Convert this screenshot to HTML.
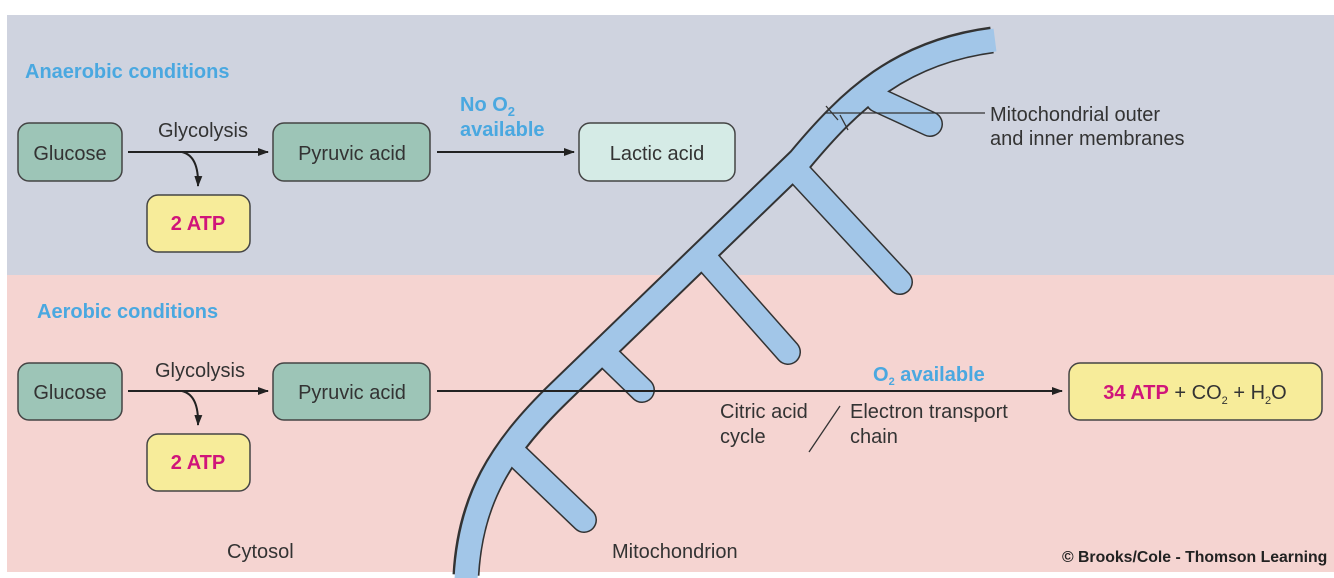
<!DOCTYPE html>
<html><head><meta charset="utf-8"><style>
html,body{margin:0;padding:0;background:#fff;}
svg{display:block;}
text{font-family:"Liberation Sans",sans-serif;}
</style></head><body>
<svg width="1334" height="578" viewBox="0 0 1334 578" xmlns="http://www.w3.org/2000/svg">
<defs>
<marker id="ah" markerWidth="11" markerHeight="8" refX="10" refY="4" orient="auto" markerUnits="userSpaceOnUse"><path d="M0,0 L11,4 L0,8 Z" fill="#222"/></marker>
</defs>
<rect x="7" y="15" width="1327" height="260" fill="#cfd3df"/>
<rect x="7" y="275" width="1327" height="297" fill="#f5d4d1"/>

<!-- mitochondrion -->
<g fill="none" stroke="#333" stroke-width="26" stroke-linecap="round">
<path d="M878 100 L930 124"/><path d="M797 171 L900 282"/><path d="M704 257 L788 352"/><path d="M608 357 L642 390"/><path d="M511 450 L584 520"/>
</g>
<path d="M466 575 C470 500 500 450 560 392 L800 160 C850 100 900 52 992 40" fill="none" stroke="#333" stroke-width="27"/>
<g fill="none" stroke="#a2c6e8" stroke-width="23" stroke-linecap="round">
<path d="M878 100 L930 124"/><path d="M797 171 L900 282"/><path d="M704 257 L788 352"/><path d="M608 357 L642 390"/><path d="M511 450 L584 520"/>
</g>
<path d="M466 580 C470 500 500 450 560 392 L800 160 C850 100 900 52 995 40" fill="none" stroke="#a2c6e8" stroke-width="23"/>

<!-- membrane pointer -->
<line x1="825" y1="113" x2="985" y2="113" stroke="#333" stroke-width="1.3"/>
<line x1="826" y1="106" x2="838" y2="120" stroke="#333" stroke-width="1.3"/>
<line x1="840" y1="115" x2="848" y2="130" stroke="#333" stroke-width="1.3"/>
<text x="990" y="121" font-size="20" fill="#333">Mitochondrial outer</text>
<text x="990" y="145" font-size="20" fill="#333">and inner membranes</text>

<!-- anaerobic -->
<text x="25" y="78" font-size="20" font-weight="bold" fill="#4aa8e0">Anaerobic conditions</text>
<rect x="18" y="123" width="104" height="58" rx="11" fill="#9dc5b7" stroke="#444" stroke-width="1.5"/>
<text x="70" y="160" font-size="20" fill="#333" text-anchor="middle">Glucose</text>
<line x1="128" y1="152" x2="268" y2="152" stroke="#222" stroke-width="2" marker-end="url(#ah)"/>
<text x="203" y="137" font-size="20" fill="#333" text-anchor="middle">Glycolysis</text>
<path d="M182 152 Q199 156 198 186" fill="none" stroke="#222" stroke-width="2" marker-end="url(#ah)"/>
<rect x="147" y="195" width="103" height="57" rx="11" fill="#f7ec9a" stroke="#444" stroke-width="1.5"/>
<text x="198" y="230" font-size="20" font-weight="bold" fill="#d0157a" text-anchor="middle">2 ATP</text>
<rect x="273" y="123" width="157" height="58" rx="11" fill="#9dc5b7" stroke="#444" stroke-width="1.5"/>
<text x="352" y="160" font-size="20" fill="#333" text-anchor="middle">Pyruvic acid</text>
<line x1="437" y1="152" x2="574" y2="152" stroke="#222" stroke-width="2" marker-end="url(#ah)"/>
<text x="460" y="111" font-size="20" font-weight="bold" fill="#4aa8e0">No O<tspan font-size="13" dy="5">2</tspan></text>
<text x="460" y="136" font-size="20" font-weight="bold" fill="#4aa8e0">available</text>
<rect x="579" y="123" width="156" height="58" rx="11" fill="#d5ebe6" stroke="#444" stroke-width="1.5"/>
<text x="657" y="160" font-size="20" fill="#333" text-anchor="middle">Lactic acid</text>

<!-- aerobic -->
<text x="37" y="318" font-size="20" font-weight="bold" fill="#4aa8e0">Aerobic conditions</text>
<rect x="18" y="363" width="104" height="57" rx="11" fill="#9dc5b7" stroke="#444" stroke-width="1.5"/>
<text x="70" y="399" font-size="20" fill="#333" text-anchor="middle">Glucose</text>
<line x1="128" y1="391" x2="268" y2="391" stroke="#222" stroke-width="2" marker-end="url(#ah)"/>
<text x="200" y="377" font-size="20" fill="#333" text-anchor="middle">Glycolysis</text>
<path d="M182 391 Q199 395 198 425" fill="none" stroke="#222" stroke-width="2" marker-end="url(#ah)"/>
<rect x="147" y="434" width="103" height="57" rx="11" fill="#f7ec9a" stroke="#444" stroke-width="1.5"/>
<text x="198" y="469" font-size="20" font-weight="bold" fill="#d0157a" text-anchor="middle">2 ATP</text>
<rect x="273" y="363" width="157" height="57" rx="11" fill="#9dc5b7" stroke="#444" stroke-width="1.5"/>
<text x="352" y="399" font-size="20" fill="#333" text-anchor="middle">Pyruvic acid</text>
<line x1="437" y1="391" x2="1062" y2="391" stroke="#222" stroke-width="2" marker-end="url(#ah)"/>
<text x="873" y="381" font-size="20" font-weight="bold" fill="#4aa8e0">O<tspan font-size="11" dy="4">2</tspan><tspan dy="-4"> available</tspan></text>
<text x="720" y="418" font-size="20" fill="#333">Citric acid</text>
<text x="720" y="443" font-size="20" fill="#333">cycle</text>
<line x1="809" y1="452" x2="840" y2="406" stroke="#333" stroke-width="1.3"/>
<text x="850" y="418" font-size="20" fill="#333">Electron transport</text>
<text x="850" y="443" font-size="20" fill="#333">chain</text>
<rect x="1069" y="363" width="253" height="57" rx="11" fill="#f7ec9a" stroke="#444" stroke-width="1.5"/>
<text x="1195" y="399" font-size="20" fill="#333" text-anchor="middle"><tspan font-weight="bold" fill="#d0157a">34 ATP</tspan> + CO<tspan font-size="11" dy="5">2</tspan><tspan dy="-5"> + H</tspan><tspan font-size="11" dy="5">2</tspan><tspan dy="-5">O</tspan></text>

<text x="227" y="558" font-size="20" fill="#333">Cytosol</text>
<text x="612" y="558" font-size="20" fill="#333">Mitochondrion</text>
<text x="1062" y="562" font-size="15.8" font-weight="bold" fill="#222">© Brooks/Cole - Thomson Learning</text>
</svg>
</body></html>
